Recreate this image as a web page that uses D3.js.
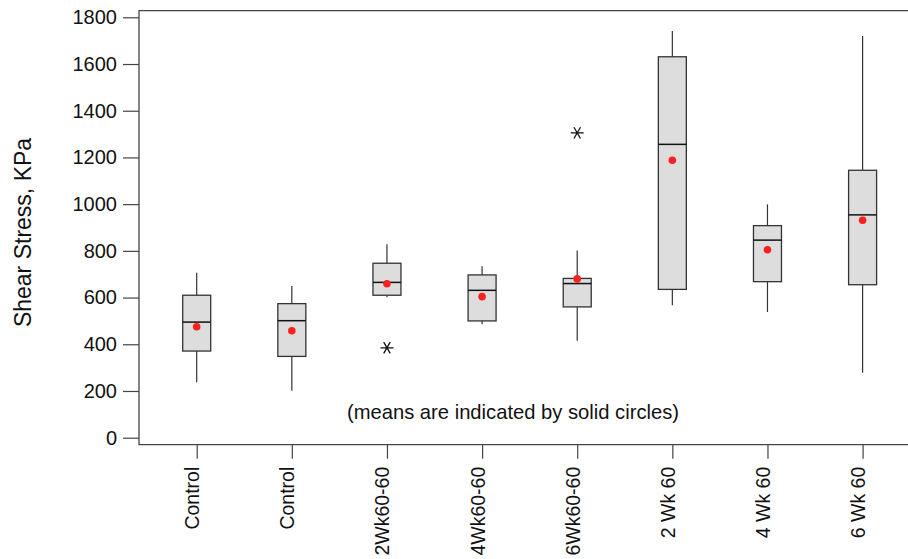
<!DOCTYPE html>
<html>
<head>
<meta charset="utf-8">
<script src="https://cdn.jsdelivr.net/npm/d3@7"></script>
<style>
  html, body { margin: 0; padding: 0; background: #fff; }
  svg { display: block; font-family: "Liberation Sans", Arial, sans-serif; }
</style>
</head>
<body>
<svg id="chart" width="908" height="559"></svg>
<script>
const categories = ["Control", "Control", "2Wk60-60", "4Wk60-60", "6Wk60-60", "2 Wk 60", "4 Wk 60", "6 Wk 60"];
const whiskerLow  = [237, 201, 601, 486, 415, 567, 538, 278];
const q1          = [371, 348, 610, 500, 560, 635, 668, 655];
const medians     = [495, 501, 665, 631, 660, 1256, 846, 954];
const q3          = [610, 574, 747, 697, 682, 1631, 908, 1145];
const whiskerHigh = [706, 650, 828, 734, 802, 1741, 999, 1720];
const means       = [475, 458, 659, 604, 680, 1188, 805, 931];
const outlierCat  = [2, 4];
const outlierVal  = [385, 1305];
const yTicks      = [0, 200, 400, 600, 800, 1000, 1200, 1400, 1600, 1800];
const yTitle = "Shear Stress, KPa";
const note = "(means are indicated by solid circles)";

const svg = d3.select("#chart");
const frame = { left: 139, right: 908, top: 10.7, bottom: 444.7 };

const y = d3.scaleLinear().domain([0, 1800]).range([437.7, 17.3]);
const x = d3.scalePoint().domain(d3.range(categories.length)).range([196.7, 862.6]);

const boxW = 28;
const ink = "#333";

// Frame (left, top, bottom)
svg.append("path")
  .attr("d", `M${frame.right},${frame.top}H${frame.left}V${frame.bottom}H${frame.right}`)
  .attr("fill", "none").attr("stroke", "#444").attr("stroke-width", 1.3);

// Y axis
const yAxis = d3.axisLeft(y).tickValues(yTicks).tickSize(16).tickPadding(6).tickFormat(d3.format("d"));
const yg = svg.append("g").attr("transform", `translate(${frame.left},0)`).call(yAxis);
yg.select(".domain").remove();
yg.selectAll(".tick line").attr("stroke", "#444").attr("stroke-width", 1.2);
yg.selectAll(".tick text").attr("font-size", 20).attr("fill", "#111")
  .attr("font-family", "Liberation Sans, Arial, sans-serif");

// X axis
const xAxis = d3.axisBottom(x).tickSize(14).tickPadding(8).tickFormat(i => categories[i]);
const xg = svg.append("g").attr("transform", `translate(0,${frame.bottom})`).call(xAxis);
xg.select(".domain").remove();
xg.selectAll(".tick line").attr("stroke", "#444").attr("stroke-width", 1.2);
xg.selectAll(".tick text")
  .attr("font-size", 19.5).attr("fill", "#111")
  .attr("font-family", "Liberation Sans, Arial, sans-serif")
  .attr("text-anchor", "end")
  .attr("dy", null)
  .attr("transform", "rotate(-90)")
  .attr("x", -22).attr("y", 2);

// Y title
svg.append("text")
  .attr("transform", "translate(31,232.5) rotate(-90)")
  .attr("text-anchor", "middle")
  .attr("font-size", 23)
  .attr("fill", "#111")
  .text(yTitle);

// Boxes
const g = svg.append("g");
categories.forEach((c, i) => {
  const cx = x(i);
  g.append("line").attr("x1", cx).attr("x2", cx)
    .attr("y1", y(whiskerHigh[i])).attr("y2", y(q3[i]))
    .attr("stroke", ink).attr("stroke-width", 1.2);
  g.append("line").attr("x1", cx).attr("x2", cx)
    .attr("y1", y(q1[i])).attr("y2", y(whiskerLow[i]))
    .attr("stroke", ink).attr("stroke-width", 1.2);
  g.append("rect")
    .attr("x", cx - boxW / 2).attr("width", boxW)
    .attr("y", y(q3[i])).attr("height", y(q1[i]) - y(q3[i]))
    .attr("fill", "#dddddd").attr("stroke", ink).attr("stroke-width", 1.3);
  g.append("line")
    .attr("x1", cx - boxW / 2).attr("x2", cx + boxW / 2)
    .attr("y1", y(medians[i])).attr("y2", y(medians[i]))
    .attr("stroke", "#111").attr("stroke-width", 1.5);
});

// Means
g.selectAll("circle.mean").data(means).join("circle")
  .attr("class", "mean")
  .attr("cx", (d, i) => x(i)).attr("cy", d => y(d))
  .attr("r", 3.8).attr("fill", "#ff1f1f");

// Outliers (asterisks)
const arm = 6.5;
const star = `M${-arm},0H${arm}` +
  `M${-arm * 0.5},${-arm * 0.866}L${arm * 0.5},${arm * 0.866}` +
  `M${arm * 0.5},${-arm * 0.866}L${-arm * 0.5},${arm * 0.866}`;
outlierVal.forEach((v, k) => {
  g.append("path")
    .attr("transform", `translate(${x(outlierCat[k])},${y(v)})`)
    .attr("d", star).attr("fill", "none").attr("stroke", "#111").attr("stroke-width", 1.3);
});

// Note
svg.append("text")
  .attr("x", 513).attr("y", 419)
  .attr("text-anchor", "middle")
  .attr("font-size", 20.2)
  .attr("fill", "#111")
  .text(note);
</script>
</body>
</html>
